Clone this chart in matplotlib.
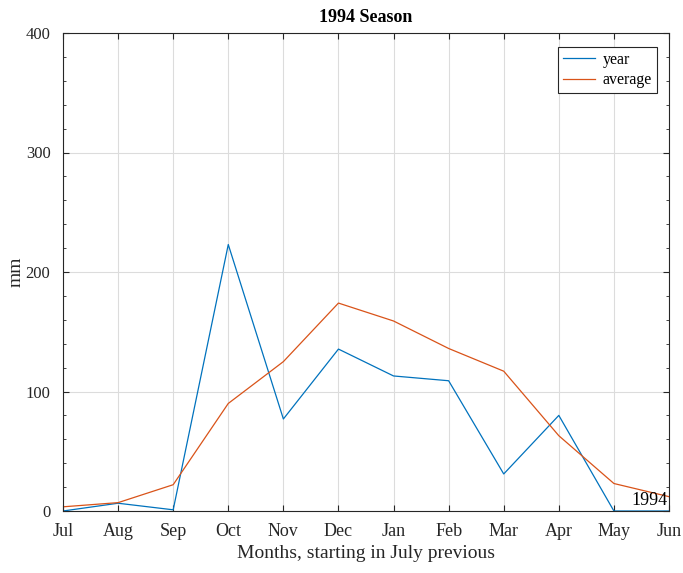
import matplotlib.pyplot as plt
from matplotlib.ticker import MultipleLocator

months = ['Jul', 'Aug', 'Sep', 'Oct', 'Nov', 'Dec', 'Jan', 'Feb', 'Mar', 'Apr', 'May', 'Jun']
year = [0, 6.5, 1, 223, 77, 135.5, 113, 109, 31, 80, 0, 0]
average = [3.5, 7, 22, 90, 125, 174, 159, 136, 117, 63, 23, 12]

plt.rcParams['font.family'] = ['Liberation Serif', 'DejaVu Serif']

fig = plt.figure(figsize=(6.83, 5.73), dpi=100)
ax = fig.add_axes([63/683, 1-511/573, (669-63)/683, (511-33)/573])

x = list(range(len(months)))
ax.plot(x, year, color='#0072BD', lw=0.9, label='year')
ax.plot(x, average, color='#D95319', lw=0.9, label='average')

ax.set_xlim(0, 11)
ax.set_ylim(0, 400)
ax.set_xticks(x)
ax.set_xticklabels(months)
ax.set_yticks([0, 100, 200, 300, 400])
ax.yaxis.set_minor_locator(MultipleLocator(20))
ax.tick_params(which='both', direction='in', top=True, right=True, labelsize=13, colors='#262626')
ax.tick_params(axis='x', pad=9)
ax.tick_params(axis='y', pad=9, labelsize=12)
ax.tick_params(which='major', length=4)
ax.tick_params(which='minor', length=2)
ax.grid(True, which='major', color='#dcdcdc', lw=0.8)
ax.set_axisbelow(True)
for s in ax.spines.values():
    s.set_color('#262626')
    s.set_linewidth(0.8)

ax.set_title('1994 Season', fontsize=13, fontweight='bold', pad=8)
ax.set_xlabel('Months, starting in July previous', fontsize=14, color='#262626', labelpad=3)
ax.set_ylabel('mm', fontsize=14, color='#262626')
ax.yaxis.set_label_coords(-0.063, 0.5)
ax.text(10.98, 2, '1994', ha='right', va='bottom', fontsize=13)

leg = ax.legend(loc='upper right', fontsize=11.5, fancybox=False, framealpha=1,
                edgecolor='#262626', handlelength=2.0, borderpad=0.3,
                labelspacing=0.3, handletextpad=0.5, borderaxespad=0,
                bbox_to_anchor=(0.980, 0.971))
leg.get_frame().set_linewidth(0.8)

fig.savefig('out.png', dpi=100)
